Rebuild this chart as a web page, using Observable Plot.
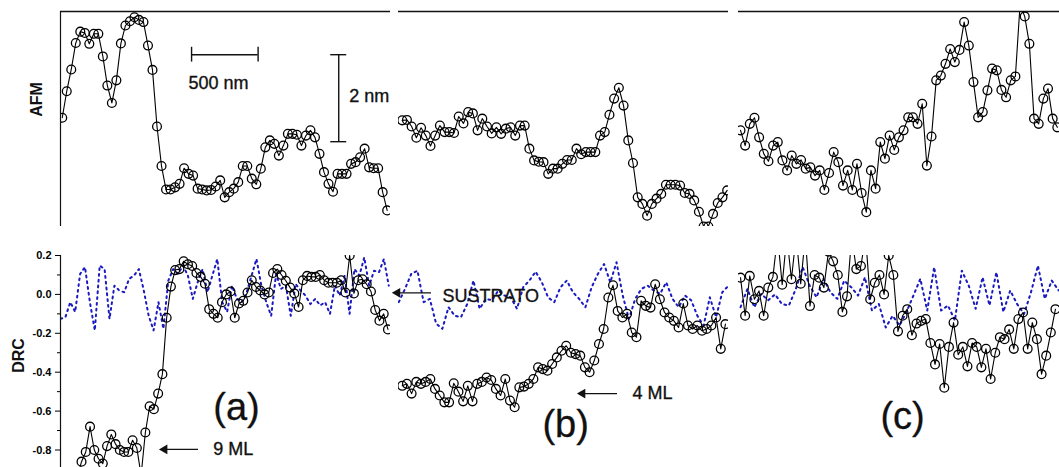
<!DOCTYPE html>
<html><head><meta charset="utf-8">
<script src="https://cdn.jsdelivr.net/npm/d3@7"></script>
<script src="https://cdn.jsdelivr.net/npm/@observablehq/plot@0.6"></script>
<style>
html,body{margin:0;padding:0;background:#fff;overflow:hidden}
#fig{position:relative;width:1059px;height:467px;overflow:hidden;background:#fff}
#fig svg{position:absolute}
</style></head><body><div id="fig"></div>
<script>
// ---------- data (x in nm along the profile, AFM height in nm, DRC dimensionless) ----------
const panelNames = ["(a)", "(b)", "(c)"];
const afmA = [2.50,3.11,3.61,4.22,4.48,4.45,4.20,4.43,4.43,3.91,3.24,2.84,3.36,4.21,4.62,4.72,4.81,4.75,4.70,4.16,3.60,2.30,1.39,0.85,0.85,0.90,0.98,1.34,1.21,1.17,0.87,0.85,0.83,0.84,0.92,1.06,0.67,0.79,0.87,1.02,1.39,1.39,1.10,0.97,1.33,1.82,1.98,1.90,1.63,1.86,2.13,2.13,2.11,1.86,2.09,2.21,2.05,1.67,1.25,0.98,0.80,1.21,1.21,1.21,1.44,1.48,1.59,1.79,1.36,1.34,1.34,0.79,0.37];
const afmB = [2.44,2.45,2.30,2.04,2.27,2.09,1.85,2.09,2.32,2.17,2.17,2.15,2.53,2.37,2.63,2.60,2.21,2.48,2.30,2.14,2.28,2.13,2.25,2.28,2.09,2.32,2.32,1.79,1.52,1.49,1.48,1.21,1.33,1.33,1.44,1.53,1.53,1.79,1.66,1.71,1.71,1.71,2.09,2.17,2.57,2.94,3.19,2.78,1.98,1.46,0.67,0.52,0.25,0.52,0.64,0.75,0.96,0.96,0.96,0.94,0.77,0.75,0.60,0.34,0.0,0.0,0.29,0.54,0.67,0.83];
const afmC = [2.21,1.86,2.36,2.50,2.05,1.67,1.50,1.86,1.94,1.52,1.29,1.63,1.44,1.53,1.33,1.36,1.17,1.29,0.84,1.23,1.71,1.48,0.94,1.29,0.84,1.44,0.77,0.33,1.29,0.87,1.94,1.56,2.09,1.76,2.05,2.21,2.51,2.51,2.36,2.82,1.40,2.07,3.36,3.47,3.74,4.08,3.78,4.06,4.70,4.16,3.32,2.51,2.63,3.13,3.63,3.59,3.14,2.97,3.36,3.45,5.10,4.83,4.20,2.48,2.36,2.94,3.17,2.48,2.28];

const drcA = [-0.96,-0.93,-0.97,-0.94,-0.86,-0.81,-0.68,-0.80,-0.845,-0.87,-0.78,-0.72,-0.77,-0.80,-0.81,-0.81,-0.75,-0.79,-0.93,-0.71,-0.575,-0.59,-0.51,-0.41,-0.12,0.04,0.125,0.13,0.17,0.155,0.146,0.11,0.09,0.055,-0.076,-0.10,-0.12,-0.04,0.0,0.015,-0.12,-0.047,-0.033,0.01,0.073,0.038,0.02,0.0,0.01,0.11,0.13,0.10,0.07,0.035,0.005,-0.065,0.073,0.095,0.09,0.09,0.10,0.073,0.06,0.06,0.06,0.073,0.01,0.20,0.005,0.073,0.078,0.052,0.015,-0.08,-0.135,-0.10,-0.18];
const drcB = [-0.47,-0.46,-0.51,-0.45,-0.46,-0.45,-0.435,-0.486,-0.52,-0.555,-0.555,-0.457,-0.50,-0.55,-0.47,-0.55,-0.46,-0.45,-0.427,-0.44,-0.486,-0.52,-0.435,-0.546,-0.58,-0.478,-0.474,-0.46,-0.435,-0.375,-0.384,-0.392,-0.358,-0.324,-0.29,-0.264,-0.30,-0.307,-0.315,-0.375,-0.40,-0.34,-0.255,-0.178,-0.016,0.047,-0.085,-0.119,-0.10,-0.196,-0.22,-0.033,-0.059,-0.068,0.052,-0.025,-0.093,-0.119,-0.136,-0.17,-0.047,-0.16,-0.178,-0.16,-0.187,-0.178,-0.16,-0.119,-0.28,-0.153];
const drcC = [0.086,-0.11,0.095,-0.025,0.018,-0.11,0.035,0.09,0.30,0.05,0.30,0.078,0.30,0.055,0.30,-0.06,0.10,0.086,0.035,0.22,0.17,0.10,-0.09,-0.01,0.30,0.13,0.146,0.30,-0.025,0.06,0.10,0.0,0.20,0.10,-0.19,-0.11,-0.076,-0.21,-0.15,-0.136,-0.127,-0.25,-0.36,-0.255,-0.48,-0.27,-0.145,-0.31,-0.27,-0.37,-0.25,-0.27,-0.375,-0.28,-0.435,-0.30,-0.22,-0.23,-0.18,-0.28,-0.127,-0.093,-0.28,-0.145,-0.23,-0.41,-0.315,-0.196,-0.076];

const subA = [-0.126,-0.117,-0.04,-0.09,0.105,0.14,-0.04,-0.185,0.148,0.13,-0.126,0.045,0.02,0.011,0.08,0.097,0.13,0.02,-0.11,-0.185,-0.04,-0.177,0.071,0.13,0.105,0.148,0.097,-0.023,0.062,0.13,0.011,0.097,0.182,-0.04,-0.09,0.045,-0.023,-0.04,0.011,0.097,0.182,0.045,-0.04,-0.11,0.105,0.028,0.045,-0.11,0.054,0.02,-0.006,-0.05,-0.023,-0.057,-0.04,-0.10,0.045,-0.006,0.097,-0.10,0.13,0.097,0.19,0.045,0.122,0.114,0.182,0.045];
const subB = [-0.04,0.028,0.105,0.122,-0.04,-0.023,-0.15,-0.177,-0.066,-0.11,-0.117,-0.05,0.071,-0.074,-0.023,-0.03,0.02,-0.006,-0.015,-0.074,0.037,0.071,0.117,0.062,-0.015,-0.04,0.037,0.071,0.011,-0.023,-0.066,0.037,0.105,0.156,0.062,0.165,-0.006,-0.126,-0.023,0.028,0.045,0.02,0.003,0.062,-0.023,-0.066,-0.006,-0.03,-0.11,-0.16,-0.015,-0.117,0.011,0.045];
const subC = [-0.066,0.028,-0.066,0.003,-0.03,0.0,-0.05,-0.057,0.028,0.14,0.045,-0.015,0.08,0.011,-0.023,0.071,0.037,-0.006,0.088,-0.083,-0.049,-0.17,-0.11,-0.16,-0.09,-0.006,0.08,-0.083,0.14,-0.083,-0.057,-0.134,0.122,0.045,-0.074,0.088,-0.057,0.114,-0.09,0.02,-0.05,-0.10,0.011,0.148,-0.023,0.071,0.02];

// first and last sample position (nm) of each profile
const spanAfm = [[13, 2455], [28, 2470], [15, 2396]];
const spanDrc = [[30, 2461], [28, 2457], [15, 2382]];
const spanSub = [[0, 2467], [2, 2480], [15, 2406]];

const drcTicks = [-0.8, -0.6, -0.4, -0.2, 0.0, 0.2];
const drcMinor = [-0.7, -0.5, -0.3, -0.1, 0.1];
const mlLabels = ["9 ML", "4 ML"];
const subLabel = "SUSTRATO";

// ---------- layout ----------
const FONT = "'Liberation Sans', Arial, Helvetica, sans-serif";
const X_DOMAIN = [0, 2480];
const AFM_DOMAIN = [0, 4.943];
const DRC_DOMAIN = [-0.89, 0.2];
const fig = document.getElementById("fig");
const BLUE = "#1a1ac0";
const INK = "#111";

function series(values, span) {
  const n = values.length;
  return values.map((v, i) => ({x: span[0] + (span[1] - span[0]) * i / (n - 1), v}));
}
function place(svg, left, top) {
  svg.style.left = left + "px";
  svg.style.top = top + "px";
  fig.appendChild(svg);
}
// slightly heavy annotation text, like the reference
const ann = {fontFamily: FONT, fill: INK, stroke: INK, strokeWidth: 0.35};

function topPanel(vals, span, extra) {
  const pts = series(vals, span);
  return Plot.plot({
    width: 395, height: 240, marginLeft: 60, marginRight: 5, marginTop: 11, marginBottom: 14,
    x: {domain: X_DOMAIN, axis: null}, y: {domain: AFM_DOMAIN, axis: null},
    style: {fontFamily: FONT, background: "transparent", overflow: "visible"},
    marks: [
      Plot.ruleY([AFM_DOMAIN[1]], {stroke: INK, strokeWidth: 1.4}),
      Plot.line(pts, {x: "x", y: "v", stroke: "#000", strokeWidth: 1.1, clip: true}),
      Plot.dot(pts, {x: "x", y: "v", r: 4.4, stroke: "#000", strokeWidth: 1.3, clip: true}),
      ...extra
    ]
  });
}
function bottomPanel(sub, subSpan, drc, drcSpan, extra) {
  const s = series(sub, subSpan);
  const d = series(drc, drcSpan);
  return Plot.plot({
    width: 395, height: 227, marginLeft: 60, marginRight: 5, marginTop: 15, marginBottom: 0,
    x: {domain: X_DOMAIN, axis: null}, y: {domain: DRC_DOMAIN, axis: null},
    style: {fontFamily: FONT, background: "transparent", overflow: "visible"},
    marks: [
      Plot.line(s, {x: "x", y: "v", stroke: BLUE, strokeWidth: 2, strokeDasharray: "1.8,4", clip: true}),
      Plot.line(d, {x: "x", y: "v", stroke: "#000", strokeWidth: 1.1, clip: true}),
      Plot.dot(d, {x: "x", y: "v", r: 4.4, stroke: "#000", strokeWidth: 1.3, clip: true}),
      ...extra
    ]
  });
}
const panelLabel = (name, x, y) => Plot.text([name], {x: () => x, y: () => y, text: d => d, fontSize: 38, lineAnchor: "bottom", textAnchor: "middle", ...ann, strokeWidth: 0.3});
const arrowLeft = (x1, x2, y) => [
  Plot.ruleY([y], {x1: x1, x2: x2, stroke: INK, strokeWidth: 1.3}),
  Plot.dot([y], {x: () => x1, y: d => d, symbol: "triangle", rotate: -90, r: 3.6, fill: INK, stroke: null})
];

// ---------- top row (AFM) ----------
place(topPanel(afmA, spanAfm[0], [
  Plot.ruleX([0], {stroke: INK, strokeWidth: 1.2}),
  // 500 nm scale bar
  Plot.ruleY([3.95], {x1: 985, x2: 1485, stroke: INK, strokeWidth: 1.4}),
  Plot.ruleX([985, 1485], {y1: 3.78, y2: 4.12, stroke: INK, strokeWidth: 1.4}),
  Plot.text(["500 nm"], {x: () => 1188, y: () => 3.29, text: d => d, fontSize: 18, textAnchor: "middle", lineAnchor: "middle", ...ann}),
  // 2 nm scale bar
  Plot.ruleX([2091], {y1: 1.95, y2: 3.95, stroke: INK, strokeWidth: 1.4}),
  Plot.ruleY([1.95, 3.95], {x1: 2031, x2: 2151, stroke: INK, strokeWidth: 1.4}),
  Plot.text(["2 nm"], {x: () => 2170, y: () => 2.99, text: d => d, fontSize: 18, textAnchor: "start", lineAnchor: "middle", ...ann}),
  Plot.text(["AFM"], {x: () => -180, y: () => 2.92, text: d => d, rotate: -90, fontSize: 16, fontWeight: "bold", textAnchor: "middle", lineAnchor: "middle", fill: INK, fontFamily: FONT})
]), 0, 0);
place(topPanel(afmB, spanAfm[1], []), 338, 0);
place(topPanel(afmC, spanAfm[2], []), 678, 0);

// ---------- bottom row (DRC) ----------
place(bottomPanel(subA, spanSub[0], drcA, spanDrc[0], [
  Plot.ruleX([0], {stroke: INK, strokeWidth: 1.2}),
  Plot.axisY({ticks: drcTicks, tickFormat: d => d.toFixed(1), tickSize: 5, tickPadding: 4, fontSize: 11, fontWeight: "bold", label: null, fontFamily: FONT}),
  Plot.axisY({ticks: drcMinor, tickFormat: () => "", tickSize: 3, label: null}),
  Plot.text(["DRC"], {x: () => -316, y: () => -0.314, text: d => d, rotate: -90, fontSize: 16, fontWeight: "bold", textAnchor: "middle", lineAnchor: "middle", fill: INK, fontFamily: FONT}),
  ...arrowLeft(782, 1037, -0.797),
  Plot.text([mlLabels[0]], {x: () => 1148, y: () => -0.797, text: d => d, fontSize: 18, textAnchor: "start", lineAnchor: "middle", ...ann}),
  panelLabel(panelNames[0], 1323, -0.648)
]), 0, 240);
place(bottomPanel(subB, spanSub[1], drcB, spanDrc[1], [
  ...arrowLeft(-8, 248, 0.008),
  Plot.text([subLabel], {x: () => 331, y: () => -0.012, text: d => d, fontSize: 18, textAnchor: "start", lineAnchor: "middle", ...ann}),
  ...arrowLeft(1383, 1646, -0.51),
  Plot.text([mlLabels[1]], {x: () => 1759, y: () => -0.51, text: d => d, fontSize: 18, textAnchor: "start", lineAnchor: "middle", ...ann}),
  panelLabel(panelNames[1], 1256, -0.731)
]), 338, 240);
place(bottomPanel(subC, spanSub[2], drcC, spanDrc[2], [
  panelLabel(panelNames[2], 1233, -0.69)
]), 678, 240);
</script></body></html>
